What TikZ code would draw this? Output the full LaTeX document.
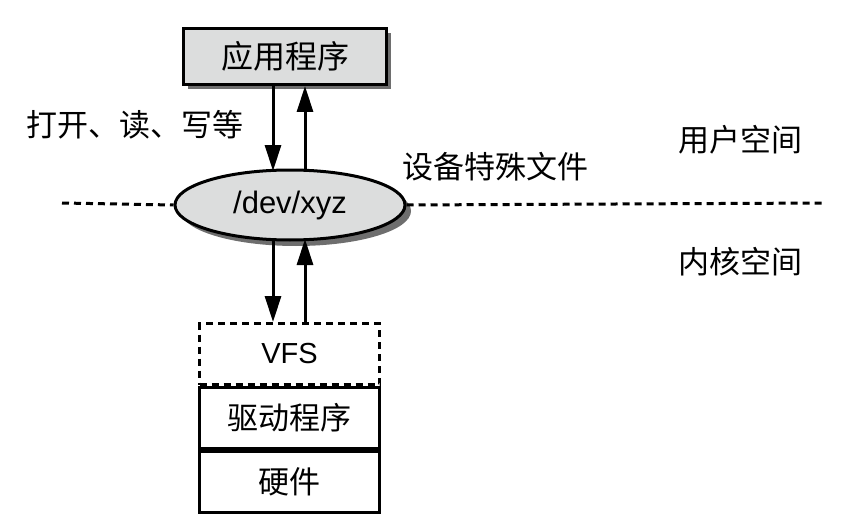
\documentclass[tikz,border=0pt]{standalone}
\usepackage{fontspec}
\setmainfont{Liberation Sans}
\newfontfamily\cjk{Noto Sans CJK SC}[Scale=1]
\usetikzlibrary{shapes.geometric,arrows.meta}
\definecolor{boxgray}{HTML}{DCDDDD}
\definecolor{shadowgray}{HTML}{6E6E6E}
\begin{document}
\begin{tikzpicture}[x=1pt,y=-1pt,
  lbl/.style={font=\cjk\fontsize{31}{32}\selectfont, inner sep=0pt},
  arr/.style={line width=3pt, -{Triangle[length=26pt,width=16pt]}},
  layer/.style={draw, line width=3pt, minimum width=180pt, minimum height=61pt, inner sep=0pt, font=\cjk\fontsize{31}{32}\selectfont}
]
\useasboundingbox (0,0) rectangle (856,524);
% top box
\fill[shadowgray] (188,33) rectangle (391,89);
\node[draw, line width=3pt, fill=boxgray, minimum width=203pt, minimum height=56pt, inner sep=0pt, anchor=north west, font=\cjk\fontsize{32}{33}\selectfont] (app) at (182,27) {应用程序};
% ellipse
\fill[shadowgray] (296,211) ellipse [x radius=115, y radius=35];
\node[draw, line width=3pt, fill=boxgray, ellipse, minimum width=230pt, minimum height=70pt, inner sep=0pt, font=\fontsize{31}{32}\selectfont] (dev) at (290,205) {/dev/xyz};
% dashed line
\coordinate (l0) at (62,203);
\coordinate (r0) at (825,203);
\draw[line width=3pt, dash pattern=on 7pt off 5pt] (l0) -- (dev.west);
\draw[line width=3pt, dash pattern=on 7pt off 5pt] (dev.east) -- (r0);
% layers
\node[layer, dash pattern=on 7pt off 5pt, anchor=north west, font=\fontsize{29}{30}\selectfont] (vfs) at (198,322) {VFS};
\node[layer, anchor=north] (drv) at (vfs.south) {驱动程序};
\node[layer, anchor=north] (hw) at (drv.south) {硬件};
% arrows
\draw[arr] (app.south -| 273,0) -- (273,171);
\draw[arr] (305,171) -- (app.south -| 305,0);
\draw[arr] (273,239) -- (vfs.north -| 273,0);
\draw[arr] (vfs.north -| 305,0) -- (305,239);
% labels
\node[lbl] (ops) at (135,125) {打开、读、写等};
\node[lbl] (spec) at (495,167) {设备特殊文件};
\node[lbl] (user) at (740,140) {用户空间};
\node[lbl] (kern) at (740,262) {内核空间};
\end{tikzpicture}
\end{document}
